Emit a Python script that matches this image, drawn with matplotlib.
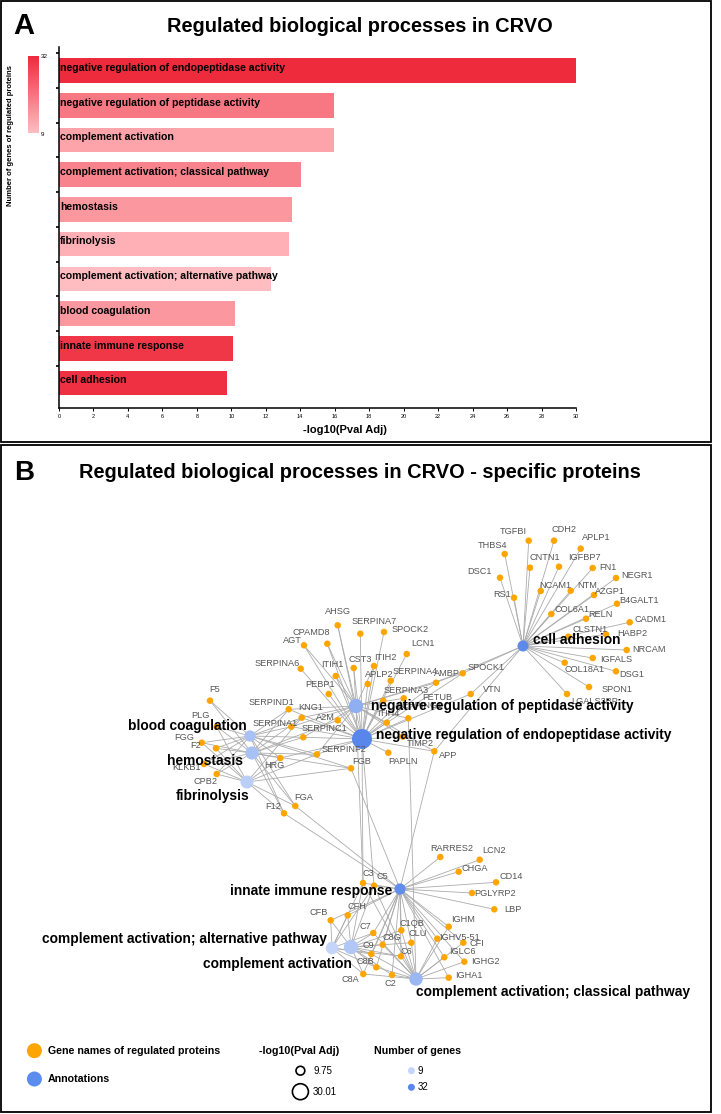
import matplotlib.pyplot as plt
from matplotlib.colors import LinearSegmentedColormap, Normalize
from matplotlib.cm import ScalarMappable
from matplotlib.patches import Rectangle

plt.rcParams['font.family'] = ['Liberation Sans', 'DejaVu Sans']

# ---- data ----
terms = ['negative regulation of endopeptidase activity',
         'negative regulation of peptidase activity',
         'complement activation',
         'complement activation; classical pathway',
         'hemostasis',
         'fibrinolysis',
         'complement activation; alternative pathway',
         'blood coagulation',
         'innate immune response',
         'cell adhesion']
pval_adj = [30.01, 15.94, 15.94, 14.04, 13.54, 13.33, 12.28, 10.21, 10.10, 9.75]
n_genes = [32, 20, 13, 18, 15, 11, 9, 15, 30, 31]
xticks = list(range(0, 31, 2))

cell_adhesion = ['TGFBI', 'CDH2', 'APLP1', 'THBS4', 'CNTN1', 'IGFBP7', 'FN1', 'DSC1', 'NEGR1',
                 'RS1', 'NCAM1', 'NTM', 'AZGP1', 'B4GALT1', 'COL6A1', 'RELN', 'CADM1', 'CLSTN1',
                 'HABP2', 'NRCAM', 'IGFALS', 'COL18A1', 'DSG1', 'SPON1', 'LGALS3BP', 'SPOCK1',
                 'VTN', 'AMBP', 'APP']
neg_endopep = ['AHSG', 'SERPINA7', 'SPOCK2', 'CPAMD8', 'AGT', 'LCN1', 'SERPINA6', 'ITIH1', 'CST3',
               'ITIH2', 'APLP2', 'SERPINA4', 'AMBP', 'SPOCK1', 'PEBP1', 'SERPINA3', 'FETUB',
               'ITIH4', 'SERPING1', 'KNG1', 'SERPIND1', 'A2M', 'SERPINC1', 'SERPINA1', 'SERPINF2',
               'TIMP2', 'APP', 'PAPLN', 'C3', 'C5', 'HRG', 'VTN']
neg_pep = ['AHSG', 'CPAMD8', 'AGT', 'ITIH1', 'CST3', 'ITIH2', 'SERPINA3', 'ITIH4', 'KNG1', 'A2M',
           'SERPINC1', 'SERPINA1', 'SERPINF2', 'SERPIND1', 'SERPING1', 'TIMP2', 'APP', 'SPOCK1',
           'AMBP', 'C3']
blood_coag = ['F5', 'PLG', 'FGG', 'F2', 'KLKB1', 'CPB2', 'FGA', 'F12', 'FGB', 'SERPIND1',
              'SERPINC1', 'SERPINA1', 'KNG1', 'HRG', 'SERPINF2']
hemostasis = ['F5', 'PLG', 'FGG', 'F2', 'KLKB1', 'CPB2', 'FGA', 'F12', 'FGB', 'SERPIND1',
              'SERPINC1', 'KNG1', 'HRG', 'SERPINF2', 'A2M']
fibrinolysis = ['PLG', 'FGG', 'F2', 'KLKB1', 'CPB2', 'FGA', 'F12', 'FGB', 'HRG', 'SERPINF2', 'KNG1']
innate = ['RARRES2', 'LCN2', 'CHGA', 'CD14', 'PGLYRP2', 'LBP', 'C3', 'C5', 'CFH', 'CFB', 'IGHM',
          'C7', 'C1QB', 'CLU', 'C8G', 'IGHV5-51', 'CFI', 'C9', 'C6', 'IGLC6', 'IGHG2', 'C8B',
          'C8A', 'C2', 'IGHA1', 'APP', 'FGB', 'FGA', 'F12']
compl = ['C3', 'C5', 'CFH', 'CFB', 'C7', 'C1QB', 'CLU', 'C8G', 'C9', 'C6', 'C8B', 'C8A', 'C2']
compl_alt = ['C3', 'C5', 'CFB', 'CFH', 'C7', 'C9', 'C6', 'C8B', 'C8A']
compl_class = ['C1QB', 'C2', 'C3', 'C5', 'C7', 'C8A', 'C8B', 'C8G', 'C9', 'C6', 'CLU', 'IGHM',
               'IGHV5-51', 'IGLC6', 'IGHG2', 'IGHA1', 'CFI', 'SERPING1']
members = [neg_endopep, neg_pep, compl, compl_class, hemostasis, fibrinolysis, compl_alt,
           blood_coag, innate, cell_adhesion]

# ---- network layout (pixel coords): node, label ----
gene_layout = {
    'TGFBI': ((528.7, 540.7), (513, 532)), 'CDH2': ((554, 540.7), (564, 529)),
    'APLP1': ((580.7, 548.7), (596.7, 538)), 'THBS4': ((504.7, 554), (493, 545)),
    'CNTN1': ((530, 567.7), (545, 558)), 'IGFBP7': ((559, 566.7), (584, 558)),
    'FN1': ((592.7, 568), (608, 567)), 'DSC1': ((500, 577.7), (480, 571)),
    'NEGR1': ((616, 578), (637, 575)), 'RS1': ((514, 597.7), (501.7, 594.7)),
    'NCAM1': ((540.7, 591), (555, 585)), 'NTM': ((570.7, 590.7), (586.7, 585)),
    'AZGP1': ((594, 595), (610, 592)), 'B4GALT1': ((617, 603.7), (638.7, 600.3)),
    'COL6A1': ((551.3, 614), (571.7, 609.3)), 'RELN': ((586, 618.7), (600.7, 614.3)),
    'CADM1': ((629.7, 622.3), (651, 619)), 'CLSTN1': ((568.3, 636.7), (590, 630)),
    'HABP2': ((606, 634.3), (632, 633.3)), 'NRCAM': ((626.7, 650), (649.3, 649)),
    'IGFALS': ((592.7, 658), (615.7, 659.7)), 'COL18A1': ((564.7, 662.7), (584.3, 670)),
    'DSG1': ((616, 671.3), (631.3, 674.7)), 'SPON1': ((589, 687), (617, 690)),
    'LGALS3BP': ((567, 694), (595, 701)),
    'AHSG': ((337.7, 625.3), (337.7, 611)), 'SERPINA7': ((360.3, 633.7), (374, 622)),
    'SPOCK2': ((384, 632), (410, 629.3)), 'CPAMD8': ((327.3, 643.7), (311.3, 632.3)),
    'AGT': ((304, 645.3), (292.3, 640.7)), 'LCN1': ((406.7, 654), (422.7, 644)),
    'SERPINA6': ((300.7, 668.7), (277.3, 664)), 'ITIH1': ((335.7, 676), (332, 664.7)),
    'CST3': ((353.7, 668), (360.3, 659.7)), 'ITIH2': ((374, 666), (385, 657)),
    'APLP2': ((367.7, 684), (379.3, 674.7)), 'SERPINA4': ((390.7, 680.7), (415, 672)),
    'AMBP': ((436, 682.7), (446.7, 673.3)), 'SPOCK1': ((462.7, 673.3), (485.7, 668)),
    'PEBP1': ((328.7, 694), (320, 684.7)), 'SERPINA3': ((403.7, 698.3), (406, 690.7)),
    'FETUB': ((383.3, 700.7), (437.3, 697.3)), 'VTN': ((470.7, 694), (491.7, 690)),
    'ITIH4': ((386.7, 722.7), (388.3, 713.3)), 'SERPING1': ((408.3, 718.3), (420, 706)),
    'KNG1': ((301.7, 717.7), (311, 708)), 'SERPIND1': ((288.7, 709.3), (271.7, 702.7)),
    'A2M': ((337.7, 720.3), (325.7, 717.3)), 'SERPINC1': ((303.3, 737.3), (324, 728.3)),
    'SERPINA1': ((291.3, 726.7), (275.3, 724)), 'SERPINF2': ((317, 754.3), (344, 750)),
    'TIMP2': ((403, 736.7), (420, 743.3)), 'APP': ((434.3, 751.3), (448.3, 756)),
    'PAPLN': ((388.3, 752.7), (402.7, 761.7)), 'FGB': ((351, 768.3), (361.7, 761.7)),
    'HRG': ((280.3, 758), (274, 765)), 'F5': ((210, 700.7), (215, 689.3)),
    'PLG': ((216.7, 726.7), (200, 715.3)), 'FGG': ((201.7, 742.7), (184, 737.7)),
    'F2': ((216, 748.3), (196, 745.3)), 'KLKB1': ((204, 764), (186.7, 767.7)),
    'CPB2': ((216.7, 774), (205, 781.7)), 'FGA': ((295.3, 806), (304, 797.7)),
    'F12': ((284, 813.3), (273.3, 806.7)),
    'RARRES2': ((440.3, 857), (451.7, 848.3)), 'LCN2': ((479.7, 859.7), (494.3, 850.7)),
    'CHGA': ((458.7, 871.7), (475, 868.3)), 'CD14': ((496, 882.3), (511, 876.3)),
    'PGLYRP2': ((472, 893), (495.3, 893.7)), 'LBP': ((494.3, 909.3), (512.7, 909.3)),
    'C3': ((363, 883), (368.3, 874)), 'C5': ((374, 885.7), (382.7, 876.7)),
    'CFH': ((347.7, 915.3), (356.7, 906.7)), 'CFB': ((330.7, 920.3), (319, 912.3)),
    'IGHM': ((448.7, 926.7), (463.3, 919)), 'C7': ((373.3, 933), (365.3, 926.3)),
    'C1QB': ((401.3, 930.3), (412.3, 923.7)), 'CLU': ((411.3, 942.7), (417.7, 933)),
    'C8G': ((382.7, 944.7), (392.3, 937.3)), 'IGHV5-51': ((437.3, 938.7), (460, 937.3)),
    'CFI': ((463.3, 942.7), (477.3, 943.3)), 'C9': ((371.3, 954), (368.3, 945.3)),
    'C6': ((401, 956.3), (406.7, 951)), 'IGLC6': ((444.3, 957.3), (462, 951)),
    'IGHG2': ((464.3, 961.7), (485.7, 961.7)), 'C8B': ((376.3, 967.3), (365, 961.3)),
    'C8A': ((363.3, 974), (350, 979.3)), 'C2': ((392, 975), (390.3, 983.3)),
    'IGHA1': ((448.7, 977.7), (469.3, 975)),
}
term_layout = [((362, 739), (376, 735, 'left')),
               ((356, 706), (371, 706, 'left')),
               ((351, 947), (352, 964, 'right')),
               ((416, 979), (416, 992, 'left')),
               ((252, 753), (243, 761, 'right')),
               ((247, 782), (250, 796, 'right')),
               ((332, 948), (327, 939, 'right')),
               ((250, 736), (247, 726, 'right')),
               ((400, 889), (392, 891, 'right')),
               ((523, 646), (533, 640, 'left'))]

reds = LinearSegmentedColormap.from_list('reds', ['#FFBDC1', '#EE2A3D'])
blues = LinearSegmentedColormap.from_list('blues', ['#C4D5F9', '#5886EA'])
norm = Normalize(9, 32)
orange = '#FFA500'

W, H = 721, 1114
fig = plt.figure(figsize=(7.21, 11.14), dpi=100)

# full-figure axes in pixel coords (frames, titles, network)
net = fig.add_axes([0, 0, 1, 1])
net.set_xlim(0, W)
net.set_ylim(H, 0)
net.axis('off')
net.add_patch(Rectangle((1, 1), 710, 441, fill=False, lw=1.3, ec='black'))
net.add_patch(Rectangle((1, 445), 710, 667, fill=False, lw=1.3, ec='black'))

# ---- panel A ----
net.text(24, 26, 'A', fontsize=21, fontweight='bold', ha='center', va='center')
net.text(360, 27, 'Regulated biological processes in CRVO', fontsize=14.4,
         fontweight='bold', ha='center', va='center')

ax = fig.add_axes([59 / W, 1 - 408 / H, (576 - 59) / W, (408 - 47) / H])
ax.set_facecolor('none')
ypos = list(range(len(terms)))
ax.barh(ypos, pval_adj, height=0.706, color=[reds(norm(n)) for n in n_genes])
for y, t in zip(ypos, terms):
    ax.text(0.05, y - 0.08, t, fontsize=7.6, fontweight='bold', va='center', ha='left')
ax.set_xlim(0, 30)
ax.set_ylim(9.72, -0.68)
ax.spines['top'].set_visible(False)
ax.spines['right'].set_visible(False)
ax.spines['left'].set_linewidth(1.1)
ax.spines['bottom'].set_linewidth(1.1)
ax.set_xticks(xticks)
ax.tick_params(axis='x', labelsize=4, length=2.5, width=0.7, pad=1.5)
ax.set_yticks([])
ax.set_yticks([y + 0.5 for y in ypos[:-1]] + [-0.5], minor=True)
ax.tick_params(axis='y', which='minor', length=2.5, width=1.2)
net.text(345, 430, '-log10(Pval Adj)', fontsize=8, fontweight='bold', ha='center', va='center')

cax = fig.add_axes([28 / W, 1 - 133 / H, 11 / W, 77 / H])
cb = fig.colorbar(ScalarMappable(norm=norm, cmap=reds), cax=cax)
cb.outline.set_visible(False)
cb.set_ticks([])
net.text(41, 57, '32', fontsize=4.5, ha='left', va='center')
net.text(41, 134, '9', fontsize=4.5, ha='left', va='center')
net.text(11, 135, 'Number of genes of regulated proteins', fontsize=5.5, fontweight='bold',
         rotation=90, ha='center', va='center')

# ---- panel B ----
net.text(24, 473, 'B', fontsize=20, fontweight='bold', ha='center', va='center')
net.text(360, 473, 'Regulated biological processes in CRVO - specific proteins', fontsize=14.4,
         fontweight='bold', ha='center', va='center')


def node_size(v, scale=1.0):
    d = (121 + (v - 9.75) / (30.01 - 9.75) * (400 - 121)) ** 0.5 * scale
    return (d * 0.72) ** 2


for (txy, _), genes in zip(term_layout, members):
    for g in genes:
        gx, gy = gene_layout[g][0]
        net.plot([txy[0], gx], [txy[1], gy], color='#ABABAB', lw=0.6, zorder=1)

for g, ((gx, gy), (lx, ly)) in gene_layout.items():
    net.scatter(gx, gy, s=22, color=orange, edgecolors='none', zorder=3)
    net.text(lx, ly, g, fontsize=6.6, color='#555555', ha='center', va='center', zorder=5)

for (txy, (lx, ly, ha)), t, v, n in zip(term_layout, terms, pval_adj, n_genes):
    net.scatter(txy[0], txy[1], s=node_size(v), color=blues(norm(n)), edgecolors='none', zorder=4)
    net.text(lx, ly, t, fontsize=9.9, fontweight='bold', ha=ha, va='center', zorder=6)

# legend
net.scatter(34.4, 1050.7, s=(15 * 0.72) ** 2, color=orange, edgecolors='none')
net.text(48, 1050.7, 'Gene names of regulated proteins', fontsize=7.7, fontweight='bold', va='center')
net.scatter(34.4, 1079, s=(15 * 0.72) ** 2, color='#5B8DEF', edgecolors='none')
net.text(48, 1079, 'Annotations', fontsize=7.7, fontweight='bold', va='center')

net.text(299, 1050.7, '-log10(Pval Adj)', fontsize=7.7, fontweight='bold', ha='center', va='center')
for v, y in zip([9.75, 30.01], [1070.7, 1091.7]):
    net.scatter(300.4, y, s=node_size(v, 0.8), facecolors='none', edgecolors='black', lw=1.2)
    net.text(313, y, f'{v:.2f}', fontsize=7, va='center')

net.text(418, 1050.7, 'Number of genes', fontsize=7.7, fontweight='bold', ha='center', va='center')
for n, y in zip([9, 32], [1070.7, 1087.3]):
    net.scatter(411.4, y, s=(7 * 0.72) ** 2, color=blues(norm(n)), edgecolors='none')
    net.text(418, y, str(n), fontsize=7, va='center')

fig.savefig('out.png', dpi=100)
